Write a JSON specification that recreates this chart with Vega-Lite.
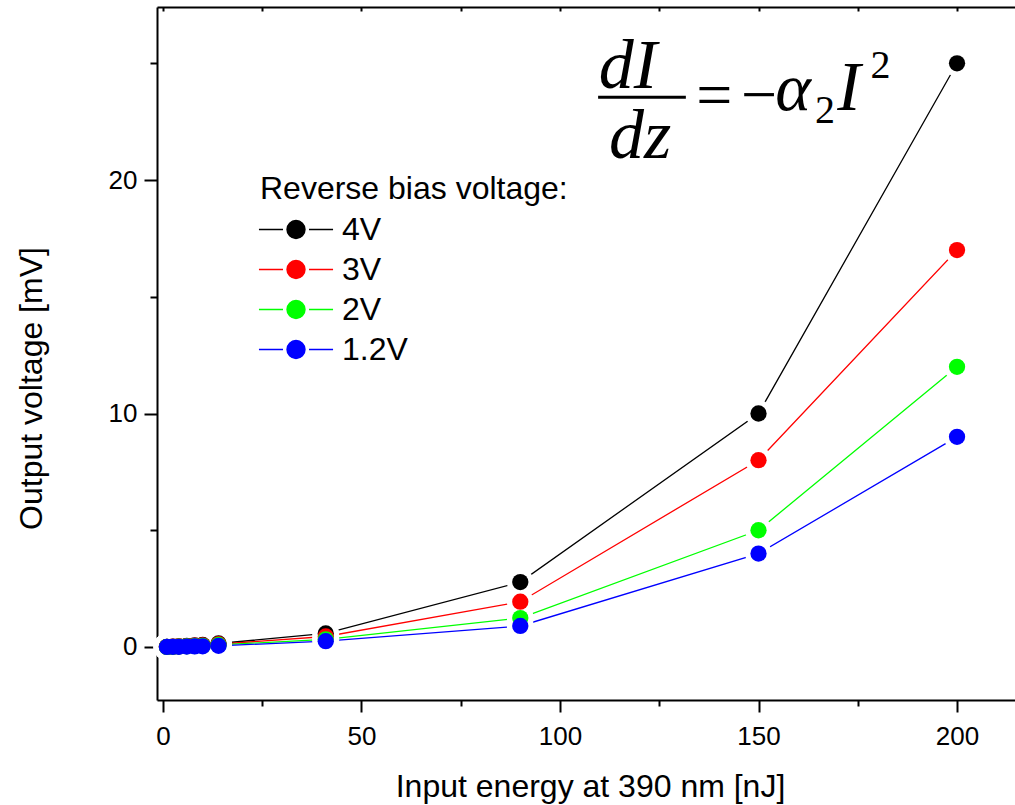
{
  "$schema": "https://vega.github.io/schema/vega-lite/v6.json",
  "width": 858,
  "height": 693,
  "autosize": "none",
  "padding": {"left": 157, "top": 7, "right": 0, "bottom": 105},
  "background": "white",
  "config": {
    "view": {"stroke": null},
    "axis": {
      "grid": false,
      "domainColor": "black",
      "domainWidth": 2,
      "tickColor": "black",
      "tickWidth": 2,
      "labelColor": "black",
      "titleColor": "black",
      "labelFont": "Liberation Sans",
      "titleFont": "Liberation Sans",
      "labelFontSize": 26,
      "titleFontSize": 32,
      "titleFontWeight": "normal"
    },
    "legend": {
      "orient": "none",
      "legendX": 103,
      "legendY": 167,
      "symbolType": "M -3.9 0 L -1.37 0 M 1.37 0 L 3.9 0 M -0.947 0 A 0.947 0.947 0 1 1 0.947 0 A 0.947 0.947 0 1 1 -0.947 0 Z",
      "symbolSize": 361,
      "symbolOffset": 20,
      "symbolStrokeWidth": 1.4,
      "symbolOpacity": 1,
      "labelFont": "Liberation Sans",
      "titleFont": "Liberation Sans",
      "labelFontSize": 32,
      "titleFontSize": 32,
      "titleFontWeight": "normal",
      "titleLimit": 600,
      "labelLimit": 300,
      "labelColor": "black",
      "titleColor": "black",
      "labelOffset": 30,
      "rowPadding": 8,
      "titlePadding": 7.5,
      "padding": 0
    }
  },
  "data": {
    "values": [
      {"series": "4V", "E": 1, "V": 0.01},
      {"series": "4V", "E": 2.5, "V": 0.02},
      {"series": "4V", "E": 4, "V": 0.03},
      {"series": "4V", "E": 6, "V": 0.05},
      {"series": "4V", "E": 8, "V": 0.07},
      {"series": "4V", "E": 10, "V": 0.09},
      {"series": "4V", "E": 14, "V": 0.15},
      {"series": "4V", "E": 41, "V": 0.58},
      {"series": "4V", "E": 90, "V": 2.78},
      {"series": "4V", "E": 150, "V": 10},
      {"series": "4V", "E": 200, "V": 25},
      {"series": "3V", "E": 1, "V": 0.01},
      {"series": "3V", "E": 2.5, "V": 0.015},
      {"series": "3V", "E": 4, "V": 0.025},
      {"series": "3V", "E": 6, "V": 0.04},
      {"series": "3V", "E": 8, "V": 0.055},
      {"series": "3V", "E": 10, "V": 0.07},
      {"series": "3V", "E": 14, "V": 0.12},
      {"series": "3V", "E": 41, "V": 0.45},
      {"series": "3V", "E": 90, "V": 1.94},
      {"series": "3V", "E": 150, "V": 8},
      {"series": "3V", "E": 200, "V": 17},
      {"series": "2V", "E": 1, "V": 0.005},
      {"series": "2V", "E": 2.5, "V": 0.01},
      {"series": "2V", "E": 4, "V": 0.02},
      {"series": "2V", "E": 6, "V": 0.03},
      {"series": "2V", "E": 8, "V": 0.04},
      {"series": "2V", "E": 10, "V": 0.05},
      {"series": "2V", "E": 14, "V": 0.09},
      {"series": "2V", "E": 41, "V": 0.33},
      {"series": "2V", "E": 90, "V": 1.24},
      {"series": "2V", "E": 150, "V": 5},
      {"series": "2V", "E": 200, "V": 12},
      {"series": "1.2V", "E": 1, "V": 0.003},
      {"series": "1.2V", "E": 2.5, "V": 0.006},
      {"series": "1.2V", "E": 4, "V": 0.01},
      {"series": "1.2V", "E": 6, "V": 0.02},
      {"series": "1.2V", "E": 8, "V": 0.025},
      {"series": "1.2V", "E": 10, "V": 0.03},
      {"series": "1.2V", "E": 14, "V": 0.05},
      {"series": "1.2V", "E": 41, "V": 0.25},
      {"series": "1.2V", "E": 90, "V": 0.9},
      {"series": "1.2V", "E": 150, "V": 4},
      {"series": "1.2V", "E": 200, "V": 9}
    ]
  },
  "layer": [
    {
      "mark": {"type": "line", "strokeWidth": 1.3},
      "encoding": {
        "x": {
          "field": "E", "type": "quantitative",
          "scale": {"domain": [-1.5, 214.6], "nice": false, "zero": false},
          "axis": {
            "orient": "bottom",
            "title": "Input energy at 390 nm [nJ]",
            "values": [0, 50, 100, 150, 200],
            "tickSize": 12,
            "labelPadding": 32,
            "labelBaseline": "alphabetic",
            "titleX": 433,
            "titleY": 96,
            "titleBaseline": "alphabetic",
            "titleAlign": "center"
          }
        },
        "y": {
          "field": "V", "type": "quantitative",
          "scale": {"domain": [-2.27, 27.41], "nice": false, "zero": false},
          "axis": {
            "orient": "left",
            "title": "Output voltage [mV]",
            "values": [0, 10, 20],
            "tickSize": 13,
            "labelPadding": 7,
            "titleX": -116,
            "titleY": 381,
            "titleAngle": 270,
            "titleBaseline": "alphabetic",
            "titleAlign": "center"
          }
        },
        "stroke": {
          "field": "series", "type": "nominal",
          "scale": {"domain": ["4V", "3V", "2V", "1.2V"], "range": ["#000000", "#ff0000", "#00ff00", "#0000ff"]},
          "legend": {"title": "Reverse bias voltage:"}
        }
      }
    },
    {
      "mark": {"type": "circle", "color": "white", "size": 720, "opacity": 1},
      "encoding": {
        "x": {
          "field": "E", "type": "quantitative",
          "scale": {"domain": [-1.5, 214.6], "nice": false, "zero": false},
          "axis": {"orient": "bottom", "values": [25, 75, 125, 175], "tickSize": 6, "labels": false, "domain": false, "title": null}
        },
        "y": {
          "field": "V", "type": "quantitative",
          "scale": {"domain": [-2.27, 27.41], "nice": false, "zero": false},
          "axis": {"orient": "left", "values": [5, 15, 25], "tickSize": 7, "labels": false, "domain": false, "title": null}
        }
      }
    },
    {
      "mark": {"type": "circle", "size": 265, "opacity": 1},
      "encoding": {
        "x": {
          "field": "E", "type": "quantitative",
          "scale": {"domain": [-1.5, 214.6], "nice": false, "zero": false},
          "axis": {"orient": "top", "values": [0, 25, 50, 75, 100, 125, 150, 175, 200], "tickSize": -4, "labels": false, "title": null}
        },
        "y": {
          "field": "V", "type": "quantitative",
          "scale": {"domain": [-2.27, 27.41], "nice": false, "zero": false},
          "axis": null
        },
        "fill": {
          "field": "series", "type": "nominal",
          "scale": {"domain": ["4V", "3V", "2V", "1.2V"], "range": ["#000000", "#ff0000", "#00ff00", "#0000ff"]},
          "legend": {"title": "Reverse bias voltage:"}
        }
      }
    },
    {
      "data": {"values": [{}]},
      "mark": {"type": "text", "text": "dI", "font": "Liberation Serif", "fontStyle": "italic", "fontSize": 70, "align": "center", "baseline": "alphabetic", "color": "black"},
      "encoding": {
        "x": {"datum": 117.1, "type": "quantitative", "scale": {"domain": [-1.5, 214.6], "nice": false, "zero": false}, "axis": null},
        "y": {"datum": 23.94, "type": "quantitative", "scale": {"domain": [-2.27, 27.41], "nice": false, "zero": false}, "axis": null}
      }
    },
    {
      "data": {"values": [{}]},
      "mark": {"type": "rule", "strokeWidth": 3, "color": "black"},
      "encoding": {
        "x": {"datum": 109.6, "type": "quantitative", "scale": {"domain": [-1.5, 214.6], "nice": false, "zero": false}, "axis": null},
        "x2": {"datum": 131.7},
        "y": {"datum": 23.55, "type": "quantitative", "scale": {"domain": [-2.27, 27.41], "nice": false, "zero": false}, "axis": null}
      }
    },
    {
      "data": {"values": [{}]},
      "mark": {"type": "text", "text": "dz", "font": "Liberation Serif", "fontStyle": "italic", "fontSize": 70, "align": "center", "baseline": "alphabetic", "color": "black"},
      "encoding": {
        "x": {"datum": 120.2, "type": "quantitative", "scale": {"domain": [-1.5, 214.6], "nice": false, "zero": false}, "axis": null},
        "y": {"datum": 20.94, "type": "quantitative", "scale": {"domain": [-2.27, 27.41], "nice": false, "zero": false}, "axis": null}
      }
    },
    {
      "data": {"values": [{}]},
      "mark": {"type": "text", "text": "=", "font": "Liberation Serif", "fontSize": 64, "align": "left", "baseline": "alphabetic", "color": "black"},
      "encoding": {
        "x": {"datum": 134.3, "type": "quantitative", "scale": {"domain": [-1.5, 214.6], "nice": false, "zero": false}, "axis": null},
        "y": {"datum": 22.75, "type": "quantitative", "scale": {"domain": [-2.27, 27.41], "nice": false, "zero": false}, "axis": null}
      }
    },
    {
      "data": {"values": [{}]},
      "mark": {"type": "text", "text": "−", "font": "Liberation Serif", "fontSize": 64, "align": "left", "baseline": "alphabetic", "color": "black"},
      "encoding": {
        "x": {"datum": 145.6, "type": "quantitative", "scale": {"domain": [-1.5, 214.6], "nice": false, "zero": false}, "axis": null},
        "y": {"datum": 22.75, "type": "quantitative", "scale": {"domain": [-2.27, 27.41], "nice": false, "zero": false}, "axis": null}
      }
    },
    {
      "data": {"values": [{}]},
      "mark": {"type": "text", "text": "α", "font": "Liberation Serif", "fontStyle": "italic", "fontSize": 68, "align": "left", "baseline": "alphabetic", "color": "black"},
      "encoding": {
        "x": {"datum": 154.2, "type": "quantitative", "scale": {"domain": [-1.5, 214.6], "nice": false, "zero": false}, "axis": null},
        "y": {"datum": 23.0, "type": "quantitative", "scale": {"domain": [-2.27, 27.41], "nice": false, "zero": false}, "axis": null}
      }
    },
    {
      "data": {"values": [{}]},
      "mark": {"type": "text", "text": "2", "font": "Liberation Serif", "fontSize": 40, "align": "left", "baseline": "alphabetic", "color": "black"},
      "encoding": {
        "x": {"datum": 164.2, "type": "quantitative", "scale": {"domain": [-1.5, 214.6], "nice": false, "zero": false}, "axis": null},
        "y": {"datum": 22.44, "type": "quantitative", "scale": {"domain": [-2.27, 27.41], "nice": false, "zero": false}, "axis": null}
      }
    },
    {
      "data": {"values": [{}]},
      "mark": {"type": "text", "text": "I", "font": "Liberation Serif", "fontStyle": "italic", "fontSize": 70, "align": "left", "baseline": "alphabetic", "color": "black"},
      "encoding": {
        "x": {"datum": 169.8, "type": "quantitative", "scale": {"domain": [-1.5, 214.6], "nice": false, "zero": false}, "axis": null},
        "y": {"datum": 23.0, "type": "quantitative", "scale": {"domain": [-2.27, 27.41], "nice": false, "zero": false}, "axis": null}
      }
    },
    {
      "data": {"values": [{}]},
      "mark": {"type": "text", "text": "2", "font": "Liberation Serif", "fontSize": 40, "align": "left", "baseline": "alphabetic", "color": "black"},
      "encoding": {
        "x": {"datum": 178.2, "type": "quantitative", "scale": {"domain": [-1.5, 214.6], "nice": false, "zero": false}, "axis": null},
        "y": {"datum": 24.37, "type": "quantitative", "scale": {"domain": [-2.27, 27.41], "nice": false, "zero": false}, "axis": null}
      }
    }
  ],
  "resolve": {"axis": {"x": "independent", "y": "independent"}}
}
